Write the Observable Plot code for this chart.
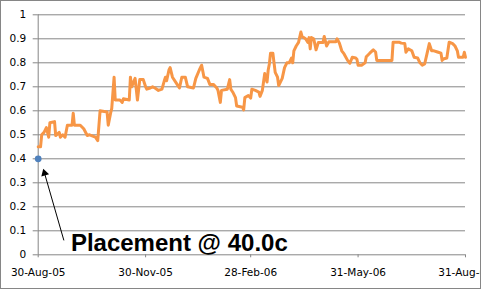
<!DOCTYPE html>
<html>
<head>
<meta charset="utf-8">
<script src="https://cdn.jsdelivr.net/npm/d3@7"></script>
<script src="https://cdn.jsdelivr.net/npm/@observablehq/plot@0.6"></script>
<style>
  html, body { margin: 0; padding: 0; background: #fff; }
  #chart svg { display: block; outline: 1px solid #868686; outline-offset: -1px; }
</style>
</head>
<body>
<div id="chart"></div>
<script>
const dates = [
  "2005-08-30","2005-09-01","2005-09-02","2005-09-04","2005-09-06","2005-09-08","2005-09-09","2005-09-13","2005-09-14","2005-09-17",
  "2005-09-18","2005-09-20","2005-09-22","2005-09-24","2005-09-28","2005-09-29","2005-09-30","2005-10-05","2005-10-08","2005-10-11",
  "2005-10-13","2005-10-18","2005-10-20","2005-10-22","2005-10-28","2005-10-29","2005-10-31","2005-11-01","2005-11-03","2005-11-04",
  "2005-11-08","2005-11-10","2005-11-11","2005-11-16","2005-11-17","2005-11-18","2005-11-21","2005-11-23","2005-11-25","2005-11-28",
  "2005-11-30","2005-12-01","2005-12-04","2005-12-06","2005-12-08","2005-12-11","2005-12-14","2005-12-16","2005-12-17","2005-12-18",
  "2005-12-20","2005-12-21","2005-12-23","2005-12-27","2005-12-29","2005-12-31","2006-01-03","2006-01-05","2006-01-10","2006-01-12",
  "2006-01-15","2006-01-17","2006-01-19","2006-01-22","2006-01-24","2006-01-27","2006-01-30","2006-01-31","2006-02-02","2006-02-03",
  "2006-02-08","2006-02-10","2006-02-11","2006-02-13","2006-02-15","2006-02-16","2006-02-21","2006-02-22","2006-02-23","2006-02-26",
  "2006-02-28","2006-03-01","2006-03-04","2006-03-07","2006-03-08","2006-03-10","2006-03-12","2006-03-14","2006-03-15","2006-03-16",
  "2006-03-17","2006-03-19","2006-03-21","2006-03-23","2006-03-24","2006-03-27","2006-03-29","2006-03-31","2006-04-02","2006-04-04",
  "2006-04-05","2006-04-06","2006-04-08","2006-04-10","2006-04-12","2006-04-13","2006-04-16","2006-04-18","2006-04-19","2006-04-20",
  "2006-04-21","2006-04-23","2006-04-25","2006-04-27","2006-05-01","2006-05-02","2006-05-04","2006-05-06","2006-05-12","2006-05-13",
  "2006-05-15","2006-05-17","2006-05-19","2006-05-22","2006-05-24","2006-05-26","2006-05-29","2006-05-30","2006-05-31","2006-06-03",
  "2006-06-06","2006-06-07","2006-06-10","2006-06-13","2006-06-15","2006-06-16","2006-06-29","2006-06-30","2006-07-05","2006-07-07",
  "2006-07-10","2006-07-11","2006-07-13","2006-07-16","2006-07-18","2006-07-21","2006-07-23","2006-07-25","2006-07-27","2006-07-29",
  "2006-07-31","2006-08-02","2006-08-04","2006-08-07","2006-08-10","2006-08-11","2006-08-12","2006-08-15","2006-08-17","2006-08-20",
  "2006-08-22","2006-08-24","2006-08-25","2006-08-29","2006-08-30","2006-08-31"
];
const prices = [
  0.45,0.45,0.50,0.51,0.53,0.49,0.55,0.555,0.497,0.51,
  0.49,0.50,0.49,0.54,0.54,0.59,0.54,0.54,0.525,0.497,
  0.50,0.49,0.476,0.60,0.595,0.54,0.59,0.61,0.74,0.645,
  0.645,0.635,0.65,0.645,0.74,0.70,0.735,0.645,0.73,0.73,
  0.70,0.69,0.695,0.70,0.695,0.685,0.69,0.725,0.74,0.725,
  0.77,0.78,0.74,0.71,0.695,0.74,0.74,0.70,0.695,0.735,
  0.77,0.79,0.74,0.735,0.71,0.71,0.695,0.685,0.635,0.685,
  0.69,0.73,0.69,0.675,0.655,0.62,0.615,0.604,0.655,0.664,
  0.653,0.69,0.685,0.678,0.66,0.685,0.755,0.72,0.77,0.795,
  0.84,0.84,0.76,0.74,0.705,0.735,0.78,0.80,0.80,0.82,
  0.80,0.85,0.87,0.885,0.928,0.91,0.90,0.885,0.905,0.858,
  0.905,0.90,0.854,0.885,0.885,0.91,0.87,0.888,0.888,0.90,
  0.882,0.85,0.837,0.81,0.798,0.823,0.82,0.815,0.79,0.79,
  0.80,0.825,0.84,0.854,0.845,0.81,0.81,0.886,0.886,0.882,
  0.88,0.844,0.858,0.85,0.823,0.82,0.80,0.79,0.795,0.837,
  0.88,0.85,0.85,0.845,0.84,0.81,0.816,0.82,0.886,0.88,
  0.87,0.85,0.823,0.823,0.844,0.823
];
const placementDate = ["2005-08-30"];
const placementValue = [0.40];
const placementLabel = "Placement @ 40.0c";
const arrowFrom = ["2005-09-21T00:00", 0.06];
const arrowHead = ["2005-09-04T10:00", 0.34];
const arrowAngle = -16;
const labelAt = ["2005-09-27T00:00", 0.046];
const xTicks = ["2005-08-30","2005-11-30","2006-02-28","2006-05-31","2006-08-31"];
const yTicks = [0,0.1,0.2,0.3,0.4,0.5,0.6,0.7,0.8,0.9,1];
const xDomain = ["2005-08-30","2006-08-31"];

const parse = d => d3.isoParse(d.length === 10 ? d + "T00:00:00Z" : d + ":00Z");
const series = dates.map((d, i) => ({date: parse(d), value: prices[i]}));
const placement = placementDate.map((d, i) => ({date: parse(d), value: placementValue[i]}));
const grid = "#868686";

const chart = Plot.plot({
  width: 481,
  height: 289,
  marginLeft: 37.7,
  marginRight: 16,
  marginTop: 14.3,
  marginBottom: 34.7,
  style: {fontFamily: "DejaVu Sans, sans-serif", fontSize: "10.5px", color: "#000", background: "#fff"},
  x: {type: "utc", domain: xDomain.map(parse)},
  y: {domain: [0, 1]},
  marks: [
    Plot.gridY(yTicks.filter(d => d > 0), {stroke: grid, strokeOpacity: 1}),
    Plot.ruleY([0], {stroke: grid}),
    Plot.ruleX([parse(xDomain[0])], {stroke: grid}),
    Plot.axisY({ticks: yTicks, tickSize: 5, tickPadding: 7, tickFormat: d3.format(".1~f"), stroke: grid, label: null, fill: "#000"}),
    Plot.axisX({ticks: xTicks.map(parse), tickSize: 3, tickPadding: 11, tickFormat: d3.utcFormat("%d-%b-%y"), stroke: grid, label: null, fill: "#000"}),
    Plot.line(series, {x: "date", y: "value", stroke: "#F79646", strokeWidth: 3, strokeLinejoin: "round", strokeLinecap: "round"}),
    Plot.dot(placement, {x: "date", y: "value", r: 3.4, fill: "#4F81BD", stroke: "none"}),
    Plot.link([{x1: parse(arrowFrom[0]), y1: arrowFrom[1], x2: parse(arrowHead[0]), y2: arrowHead[1]}],
      {x1: "x1", y1: "y1", x2: "x2", y2: "y2", stroke: "#000", strokeWidth: 1}),
    Plot.dot([{x: parse(arrowHead[0]), y: arrowHead[1]}],
      {x: "x", y: "y", symbol: "triangle", r: 3, rotate: arrowAngle, fill: "#000", stroke: "none"}),
    Plot.text([placementLabel], {x: () => parse(labelAt[0]), y: () => labelAt[1], text: d => d, textAnchor: "start",
      fontFamily: "Liberation Sans, Arial, sans-serif", fontWeight: "bold", fontSize: 24, fill: "#000"})
  ]
});
document.getElementById("chart").appendChild(chart);
</script>
</body>
</html>
